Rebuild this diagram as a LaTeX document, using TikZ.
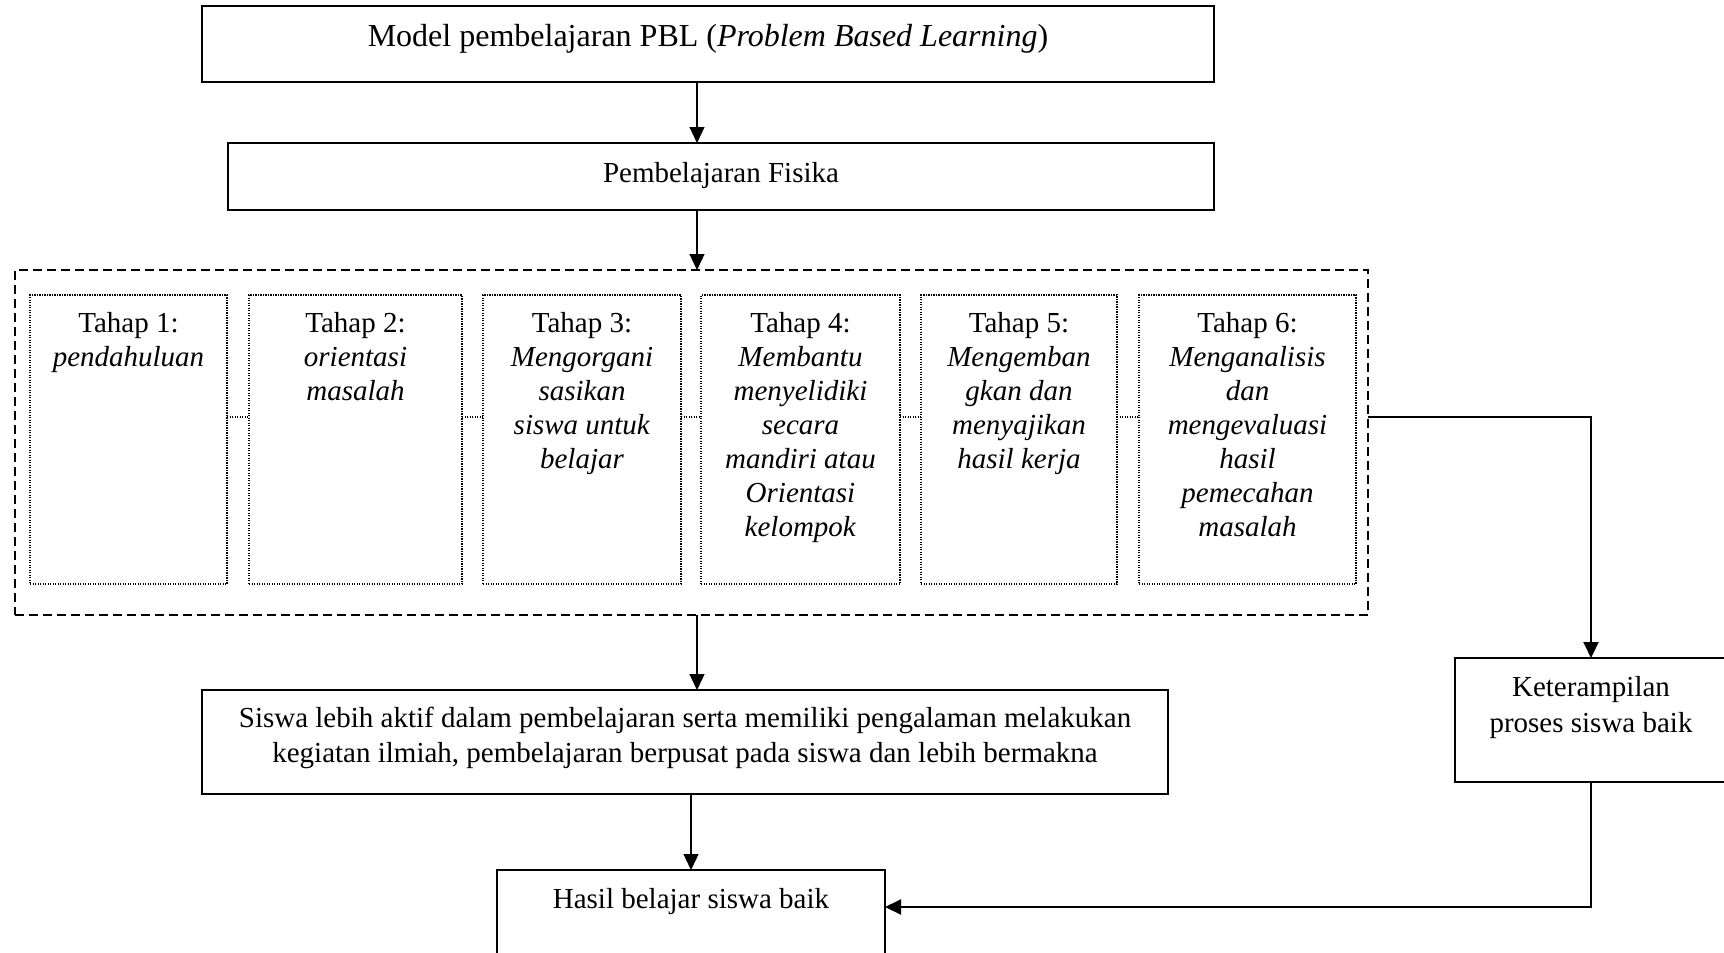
\documentclass[tikz,border=0pt]{standalone}
\usepackage{fontspec}
\setmainfont{Liberation Serif}
\usetikzlibrary{arrows.meta}
\begin{document}
\begin{tikzpicture}[x=1pt,y=-1pt,
  txt/.style={inner sep=0pt, outer sep=0pt, font=\fontsize{29}{34}\selectfont, align=center},
  solidbox/.style={draw, line width=1.8pt, inner sep=0pt, outer sep=0pt, anchor=north west},
  dashbox/.style={draw, line width=1.8pt, dash pattern=on 9pt off 5pt, inner sep=0pt, outer sep=0pt, anchor=north west},
  dotbox/.style={draw, line width=1.2pt, dash pattern=on 1.2pt off 1.3pt, inner sep=0pt, outer sep=0pt, anchor=north west, minimum height=289pt},
  dotline/.style={line width=1.2pt, dash pattern=on 1.2pt off 1.3pt},
  arr/.style={line width=1.3pt, -{Triangle[length=16pt,width=15pt]}},
  arrR/.style={line width=2pt, -{Triangle[length=16pt,width=15pt]}}
]
\useasboundingbox[fill=white] (0,0) rectangle (1724,953);

% boxes
\node[solidbox, minimum width=1012pt, minimum height=76pt] (top) at (202,6) {};
\node[solidbox, minimum width=986pt, minimum height=67pt] (fis) at (228,143) {};
\node[dashbox, minimum width=1353pt, minimum height=345pt] (dash) at (15,270) {};
\node[dotbox, minimum width=197pt] (t1) at (30,295) {};
\node[dotbox, minimum width=213pt] (t2) at (249,295) {};
\node[dotbox, minimum width=198pt] (t3) at (483,295) {};
\node[dotbox, minimum width=199pt] (t4) at (701,295) {};
\node[dotbox, minimum width=196pt] (t5) at (921,295) {};
\node[dotbox, minimum width=217pt] (t6) at (1139,295) {};
\node[solidbox, minimum width=966pt, minimum height=104pt] (siswa) at (202,690) {};
\node[solidbox, minimum width=272pt, minimum height=124pt] (ket) at (1455,658) {};
\node[solidbox, minimum width=388pt, minimum height=120pt] (hasil) at (497,870) {};

% texts
\node[txt, anchor=base, font=\fontsize{32}{38}\selectfont] (toptx) at (708,46) {Model pembelajaran PBL (\textit{Problem Based Learning})};
\node[txt, anchor=base] (fistx) at (721,182) {Pembelajaran Fisika};
\node[txt, anchor=north] (t1tx) at (t1.north |- 0,312) {Tahap 1:\\\textit{pendahuluan}};
\node[txt, anchor=north] (t2tx) at (t2.north |- 0,312) {Tahap 2:\\\textit{orientasi}\\\textit{masalah}};
\node[txt, anchor=north] (t3tx) at (t3.north |- 0,312) {Tahap 3:\\\textit{Mengorgani}\\\textit{sasikan}\\\textit{siswa untuk}\\\textit{belajar}};
\node[txt, anchor=north] (t4tx) at (t4.north |- 0,312) {Tahap 4:\\\textit{Membantu}\\\textit{menyelidiki}\\\textit{secara}\\\textit{mandiri atau}\\\textit{Orientasi}\\\textit{kelompok}};
\node[txt, anchor=north] (t5tx) at (t5.north |- 0,312) {Tahap 5:\\\textit{Mengemban}\\\textit{gkan dan}\\\textit{menyajikan}\\\textit{hasil kerja}};
\node[txt, anchor=north] (t6tx) at (t6.north |- 0,312) {Tahap 6:\\\textit{Menganalisis}\\\textit{dan}\\\textit{mengevaluasi}\\\textit{hasil}\\\textit{pemecahan}\\\textit{masalah}};
\node[txt, anchor=north, font=\fontsize{29}{35}\selectfont] (siswatx) at (685,707) {Siswa lebih aktif dalam pembelajaran serta memiliki pengalaman melakukan\\kegiatan ilmiah, pembelajaran berpusat pada siswa dan lebih bermakna};
\node[txt, anchor=north, font=\fontsize{29}{36}\selectfont] (kettx) at (1591,676) {Keterampilan\\proses siswa baik};
\node[txt, anchor=base] (hasiltx) at (691,908) {Hasil belajar siswa baik};

% helper coordinates
\coordinate (ax) at (697,0);
\coordinate (bx) at (691,0);
\coordinate (cy) at (0,417);
\coordinate (hy) at (0,907);

% dotted links between stages
\draw[dotline] (t1.east |- cy) -- (t2.west |- cy);
\draw[dotline] (t2.east |- cy) -- (t3.west |- cy);
\draw[dotline] (t3.east |- cy) -- (t4.west |- cy);
\draw[dotline] (t4.east |- cy) -- (t5.west |- cy);
\draw[dotline] (t5.east |- cy) -- (t6.west |- cy);

% arrows
\draw[arr] (top.south -| ax) -- (fis.north -| ax);
\draw[arr] (fis.south -| ax) -- (dash.north -| ax);
\draw[arr] (dash.south -| ax) -- (siswa.north -| ax);
\draw[arr] (siswa.south -| bx) -- (hasil.north -| bx);
\draw[arrR] (dash.east |- cy) -| (ket.north);
\draw[arrR] (ket.south) |- (hasil.east |- hy);
\end{tikzpicture}
\end{document}
